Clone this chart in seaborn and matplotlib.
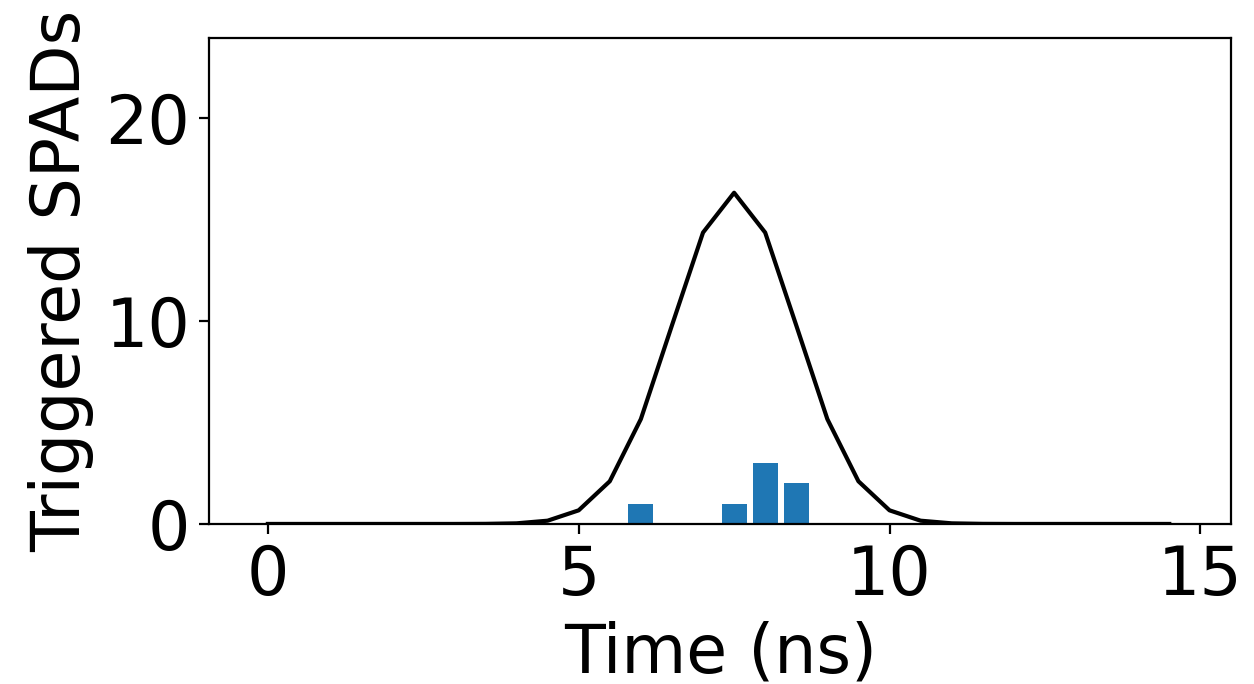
import matplotlib
matplotlib.use("Agg")
import matplotlib.pyplot as plt
import seaborn as sns
import pandas as pd

# expected photon curve (sampled every 0.5 ns)
time_ns = [0.0, 0.5, 1.0, 1.5, 2.0, 2.5, 3.0, 3.5, 4.0, 4.5,
           5.0, 5.5, 6.0, 6.5, 7.0, 7.5, 8.0, 8.5, 9.0, 9.5,
           10.0, 10.5, 11.0, 11.5, 12.0, 12.5, 13.0, 13.5, 14.0, 14.5]
expected = [0.0, 0.0, 0.0, 0.0, 0.0, 0.0, 0.0, 0.005, 0.03, 0.16,
            0.67, 2.10, 5.16, 9.77, 14.34, 16.3, 14.34, 9.77, 5.16, 2.10,
            0.67, 0.16, 0.03, 0.005, 0.0, 0.0, 0.0, 0.0, 0.0, 0.0]

# triggered SPADs histogram
bar_time = [6.0, 7.5, 8.0, 8.5]
bar_count = [1, 1, 3, 2]

curve = pd.DataFrame({"t": time_ns, "n": expected})
hits = pd.DataFrame({"t": bar_time, "n": bar_count})

plt.rcParams["font.size"] = 24
fig, ax = plt.subplots(figsize=(6.27, 3.42), dpi=200)
fig.subplots_adjust(left=0.167, right=0.982, bottom=0.234, top=0.944)

sns.barplot(data=hits, x="t", y="n", native_scale=True, width=0.8,
            color="#1f77b4", saturation=1, ax=ax)
sns.lineplot(data=curve, x="t", y="n", color="black", linewidth=1.5, ax=ax)

ax.set_xlim(-0.94, 15.5)
ax.set_ylim(0, 23.9)
ax.set_xticks([0, 5, 10, 15])
ax.set_yticks([0, 10, 20])
ax.tick_params(labelsize=24)
ax.set_xlabel("Time (ns)", fontsize=24)
ax.set_ylabel("Triggered SPADs", fontsize=24)

fig.savefig("out.png", dpi=200)
